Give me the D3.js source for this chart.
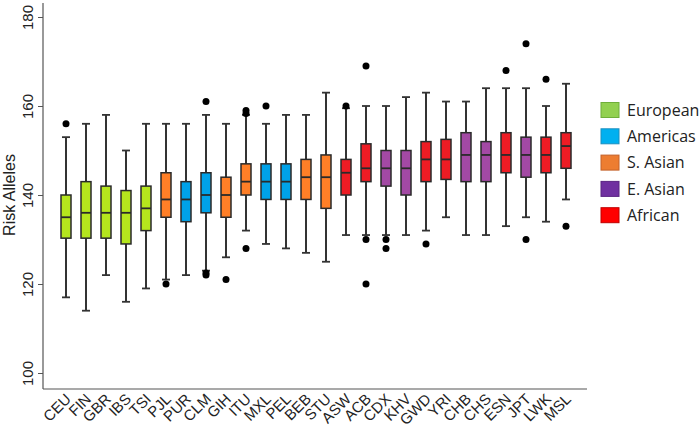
<!DOCTYPE html>
<html><head><meta charset="utf-8">
<script src="https://cdn.jsdelivr.net/npm/d3@7"></script>
<style>body{margin:0;background:#fff}svg{display:block}</style>
</head><body>
<svg id="c" width="700" height="427"></svg>
<script>
const categories = ["CEU","FIN","GBR","IBS","TSI","PJL","PUR","CLM","GIH","ITU","MXL","PEL","BEB","STU","ASW","ACB","CDX","KHV","GWD","YRI","CHB","CHS","ESN","JPT","LWK","MSL"];
const groups = ["European","European","European","European","European","S. Asian","Americas","Americas","S. Asian","S. Asian","Americas","Americas","S. Asian","S. Asian","African","African","E. Asian","E. Asian","African","African","E. Asian","E. Asian","African","E. Asian","African","African"];
const lowWhisker = [117,114,122,116,119,121,122,123,126,132,129,128,127,125,131,131,131,131,132,135,131,131,133,135,134,139];
const q1 =        [130.3,130.3,130.3,129,132,135,134,136,135,140,139,139,139,137,140,143,142,140,143,143.5,143,143,145,144,145,146];
const medians =   [135,136,136,136,137,139,139,140,140,143,143,143,144,144,145,146,146,146,148,148,149,149,149,149,149,151];
const q3 =        [140,143,142,141,142,145,143,145,144,147,147,147,148,149,148,151.5,150,150,152,152.5,154,152,154,153,153,154];
const highWhisker=[153,156,158,150,156,156,156,158,156,158,156,158,158,163,159.5,160,160,162,163,161,161,164,164,164,160,165];
const outliers = [[156],[],[],[],[],[120],[],[161,122.5,122],[121],[159,158.3,128],[160],[],[],[],[160],[169,130,120],[130,128],[],[129],[],[],[],[168],[174,130],[166],[133]];
const legendGroups = ["European","Americas","S. Asian","E. Asian","African"];
const yTicks = [100,120,140,160,180];

const boxColor = {"European":"#b5e61d","Americas":"#00a2e8","S. Asian":"#ff7f27","E. Asian":"#a349a4","African":"#ed1c24"};
const legendColor = {"European":"#92d050","Americas":"#00b0f0","S. Asian":"#ed7d31","E. Asian":"#7030a0","African":"#ff0000"};
const legendStroke = {"European":"#6fae3a","Americas":"#1b8fbf","S. Asian":"#c4622a","E. Asian":"#5a2582","African":"#c00000"};

const svg = d3.select("#c");
const y = d3.scaleLinear().domain([100,180]).range([373,17]);
const x = d3.scaleBand().domain(categories).range([56,576]).paddingInner(0.5).paddingOuter(0.25);
const cx = d => x(d) + x.bandwidth()/2;

// axes lines
svg.append("line").attr("x1",43).attr("x2",43).attr("y1",3).attr("y2",389).attr("stroke","#555").attr("stroke-width",1.2);
svg.append("line").attr("x1",43).attr("x2",587).attr("y1",389).attr("y2",389).attr("stroke","#555").attr("stroke-width",1.2);

// y axis via d3
const yAxis = d3.axisLeft(y).tickValues(yTicks).tickSize(5).tickPadding(0).tickFormat(d3.format("d"));
const gy = svg.append("g").attr("transform","translate(43,0)").call(yAxis);
gy.select(".domain").remove();
gy.selectAll(".tick line").attr("stroke","#555");
gy.selectAll(".tick text").attr("transform","translate(-10,0) rotate(-90)").attr("text-anchor","middle").attr("dy","0")
  .attr("x",0).attr("y",0)
  .style("font-family","Arial, 'Liberation Sans', sans-serif").style("font-size","15px").attr("fill","#222");

svg.append("text").attr("transform","translate(15,195) rotate(-90)").attr("text-anchor","middle")
  .style("font-family","Arial, 'Liberation Sans', sans-serif").style("font-size","16px").attr("fill","#222").text("Risk Alleles");

// x labels
const xAxis = d3.axisBottom(x).tickSize(0).tickPadding(0);
const gx = svg.append("g").attr("transform","translate(0,389)").call(xAxis);
gx.select(".domain").remove();
gx.selectAll(".tick text").attr("text-anchor","end").attr("dy","0").attr("y",0)
  .attr("transform","translate(6,11) rotate(-45)")
  .style("font-family","Arial, 'Liberation Sans', sans-serif").style("font-size","15px").attr("fill","#222");

// boxes
const data = categories.map((c,i)=>({c, g:groups[i], lo:lowWhisker[i], q1:q1[i], med:medians[i], q3:q3[i], hi:highWhisker[i], out:outliers[i]}));
const bw = x.bandwidth();
const gb = svg.append("g");
const b = gb.selectAll("g.box").data(data).join("g");
b.append("line").attr("x1",d=>cx(d.c)).attr("x2",d=>cx(d.c)).attr("y1",d=>y(d.hi)).attr("y2",d=>y(d.lo)).attr("stroke","#333").attr("stroke-width",2);
b.append("line").attr("x1",d=>cx(d.c)-4).attr("x2",d=>cx(d.c)+4).attr("y1",d=>y(d.hi)).attr("y2",d=>y(d.hi)).attr("stroke","#333").attr("stroke-width",1.8);
b.append("line").attr("x1",d=>cx(d.c)-4).attr("x2",d=>cx(d.c)+4).attr("y1",d=>y(d.lo)).attr("y2",d=>y(d.lo)).attr("stroke","#333").attr("stroke-width",1.8);
b.append("rect").attr("x",d=>x(d.c)).attr("width",bw).attr("y",d=>y(d.q3)).attr("height",d=>y(d.q1)-y(d.q3))
  .attr("fill",d=>boxColor[d.g]).attr("stroke","#2a2a2a").attr("stroke-width",1.5);
b.append("line").attr("x1",d=>x(d.c)).attr("x2",d=>x(d.c)+bw).attr("y1",d=>y(d.med)).attr("y2",d=>y(d.med)).attr("stroke","#2a2a2a").attr("stroke-width",1.8);
b.selectAll("circle").data(d=>d.out.map(v=>({c:d.c,v}))).join("circle")
  .attr("cx",d=>cx(d.c)).attr("cy",d=>y(d.v)).attr("r",3.5).attr("fill","#000");

// legend
const lg = svg.append("g").selectAll("g").data(legendGroups).join("g")
  .attr("transform",(d,i)=>`translate(601,${102.5+i*26.3})`);
lg.append("rect").attr("width",18).attr("height",15).attr("fill",d=>legendColor[d]).attr("stroke",d=>legendStroke[d]).attr("stroke-width",1);
lg.append("text").attr("x",26).attr("y",7.5).attr("dy","0.36em")
  .style("font-family","'Open Sans', 'Noto Sans', sans-serif").style("font-size","16px").attr("fill","#222").text(d=>d);
</script>
</body></html>
